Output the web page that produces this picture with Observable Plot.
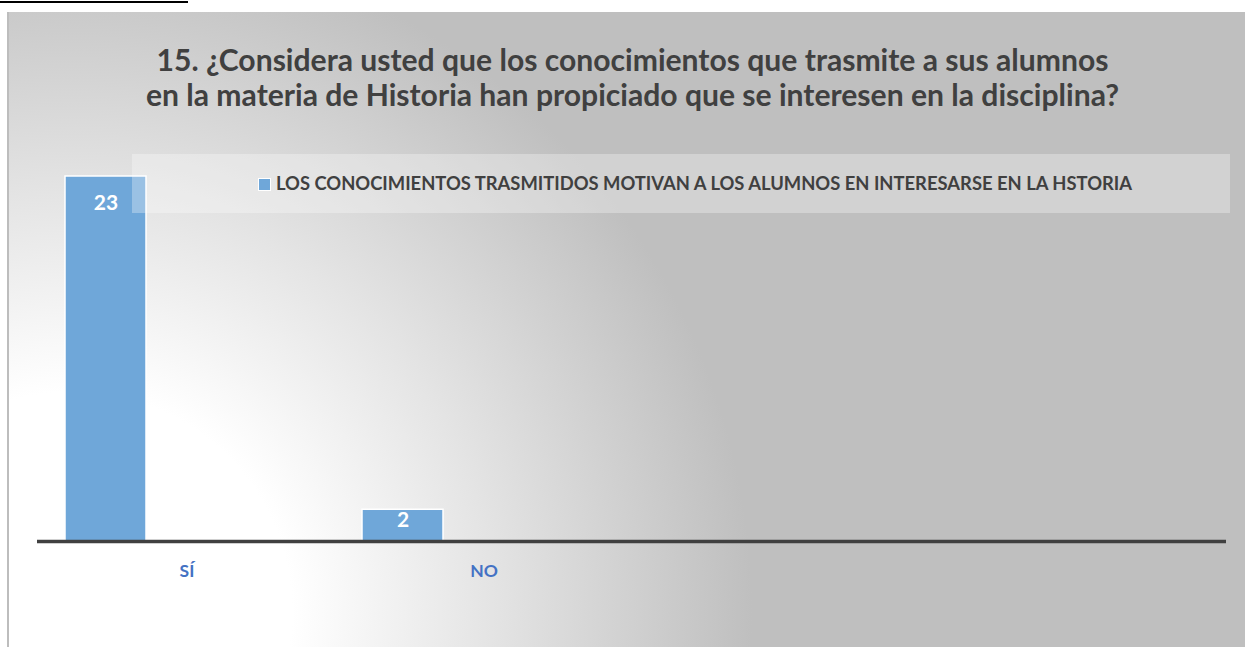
<!DOCTYPE html>
<html>
<head>
<meta charset="utf-8">
<script src="https://cdn.jsdelivr.net/npm/d3@7"></script>
<script src="https://cdn.jsdelivr.net/npm/@observablehq/plot@0.6"></script>
<style>
  html, body { margin: 0; padding: 0; background: #fff; }
  #wrap { position: relative; width: 1245px; height: 647px; overflow: hidden; font-family: Lato, "Open Sans", sans-serif; }
  #topline { position: absolute; left: 0; top: 1px; width: 188px; height: 2px; background: #000; }
  #bg { position: absolute; left: 7px; top: 12px; right: 0; bottom: 0;
        border-left: 2px solid #bdbdbd;
        background: radial-gradient(circle at 63px 600px, #ffffff 0px, #ffffff 220px, #e4e4e4 420px, #bfbfbf 680px, #bfbfbf 2000px); }
  .title { position: absolute; left: 0; width: 1265px; text-align: center; color: #404040; font-weight: bold; white-space: nowrap; line-height: 1; }
  #plot { position: absolute; left: 0; top: 0; }
  #legend { position: absolute; left: 132px; top: 154px; width: 1098px; height: 59px; background: rgba(255,255,255,0.3); }
  #legend .sw { position: absolute; left: 126px; top: 24px; width: 11px; height: 11px; background: #6fa7d9; border: 1px solid #fff; }
  #legend .lt { position: absolute; left: 144px; top: 20px; color: #404040; font-weight: bold; white-space: nowrap; line-height: 1; }
</style>
</head>
<body>
<div id="wrap">
  <div id="topline"></div>
  <div id="bg"></div>
  <div id="plot"></div>
  <div id="t1" class="title"></div>
  <div id="t2" class="title"></div>
  <div id="legend"><div class="sw"></div><div class="lt" id="lt"></div></div>
</div>
<script>
// ---- data ----
const categories = ["SÍ", "NO"];
const values = [23, 2];
const padCategories = ["", " "];
const seriesName = "LOS CONOCIMIENTOS TRASMITIDOS MOTIVAN A LOS ALUMNOS EN INTERESARSE EN LA HSTORIA";
const titleLines = [
  "15. ¿Considera usted que los conocimientos que trasmite a sus alumnos",
  "en la materia de Historia han propiciado que se interesen en la disciplina?"
];

const data = categories.map((c, i) => ({category: c, value: values[i]}));
const FONT = 'Lato, "Open Sans", sans-serif';

// fit font size so text width matches reference width
const ctx = document.createElement("canvas").getContext("2d");
function fitSize(text, width, weight = "bold") {
  ctx.font = `${weight} 100px ${FONT}`;
  return 100 * width / ctx.measureText(text).width;
}

const t1 = document.getElementById("t1");
const t2 = document.getElementById("t2");
t1.textContent = titleLines[0];
t2.textContent = titleLines[1];
const s1 = fitSize(titleLines[0], 945), s2 = fitSize(titleLines[1], 981);
const ts = (s1 + s2) / 2;
t1.style.fontSize = ts + "px"; t2.style.fontSize = ts + "px";
t1.style.top = (71 - 0.9 * ts) + "px";
t2.style.top = (106 - 0.9 * ts) + "px";

const lt = document.getElementById("lt");
lt.textContent = seriesName;
const ls = fitSize(seriesName, 860);
lt.style.fontSize = ls + "px";
lt.style.top = (37 - 0.9 * ls) + "px";

const chart = Plot.plot({
  width: 1245,
  height: 647,
  marginLeft: 37,
  marginRight: 19,
  marginTop: 176,
  marginBottom: 106,
  style: {background: "transparent", fontFamily: FONT},
  x: {domain: [...categories, ...padCategories], padding: 0, axis: null},
  y: {domain: [0, 23], axis: null},
  marks: [
    Plot.barY(data, {x: "category", y: "value", fill: "#6fa7d9", stroke: "#ffffff", strokeWidth: 1.5, insetLeft: 27, insetRight: 189}),
    Plot.ruleY([0], {stroke: "#404040", strokeWidth: 3.5}),
    Plot.axisX({domain: categories, label: null, tickSize: 0, tickPadding: 23, fontSize: 17.5, fontWeight: "bold", fill: "#4472c4", tickFormat: d => d}),
    Plot.text(data.filter(d => d.value > 5), {x: "category", y: "value", text: d => String(d.value), dx: -81, dy: 27, fill: "#ffffff", fontSize: 21, fontWeight: "bold"}),
    Plot.text(data.filter(d => d.value <= 5), {x: "category", y: "value", text: d => String(d.value), dx: -81, dy: 11, fill: "#ffffff", fontSize: 21, fontWeight: "bold"})
  ]
});
document.getElementById("plot").appendChild(chart);
</script>
</body>
</html>
